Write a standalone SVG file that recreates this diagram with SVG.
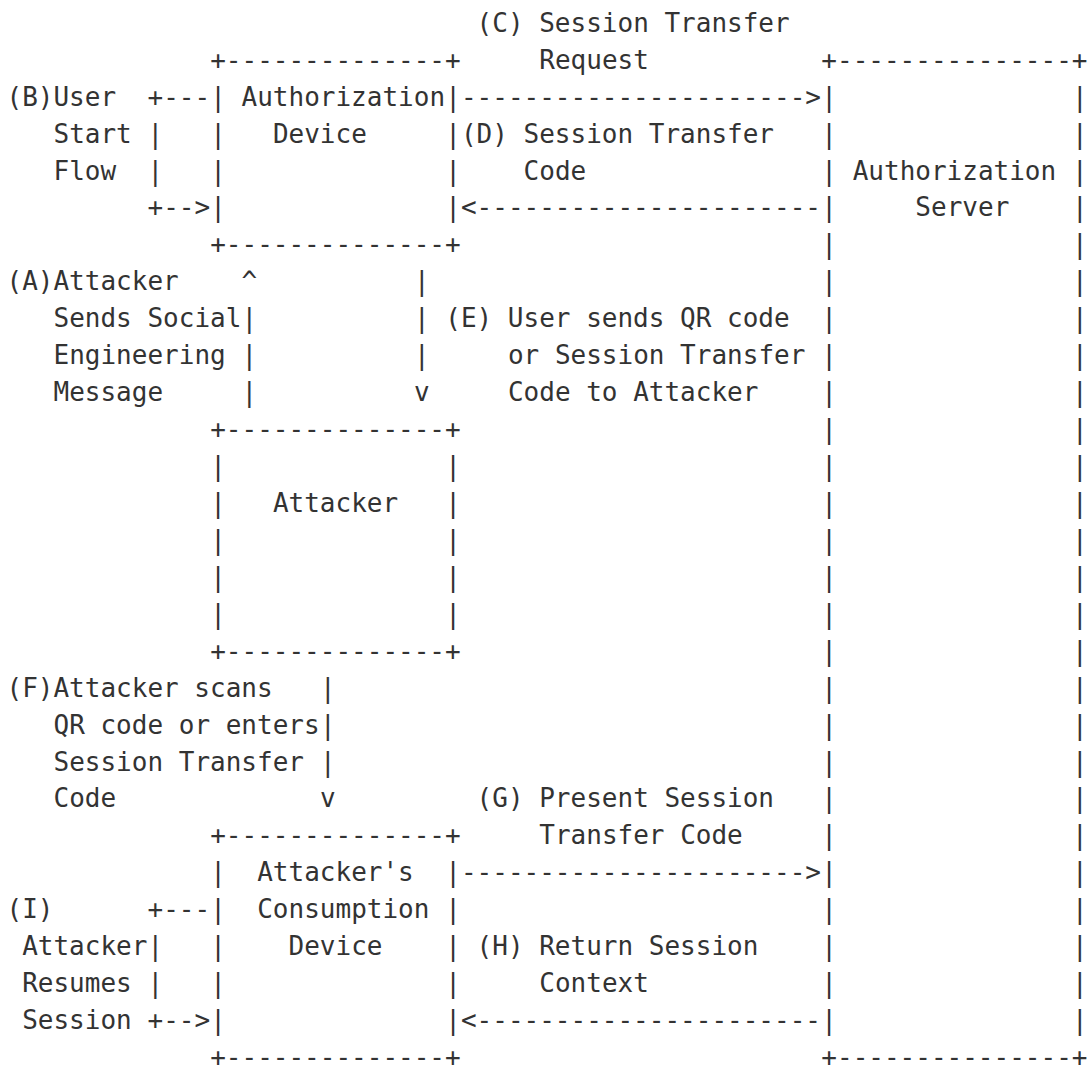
<svg xmlns="http://www.w3.org/2000/svg" width="1087" height="1066" viewBox="0 0 1087 1066" xml:space="preserve">
<style>
  text { font-family: "DejaVu Sans Mono", "Liberation Mono", monospace; font-size: 26px; fill: #333333; white-space: pre; }
</style>
<rect x="0" y="0" width="1087" height="1066" fill="#ffffff"/>

<g id="auth-device">
  <text x="210.21" y="68.6">+--------------+</text>
  <text x="210.21" y="105.6">|</text><text x="445.26" y="105.6">|</text>
  <text x="210.21" y="142.5">|</text><text x="445.26" y="142.5">|</text>
  <text x="210.21" y="179.5">|</text><text x="445.26" y="179.5">|</text>
  <text x="210.21" y="216.4">|</text><text x="445.26" y="216.4">|</text>
  <text x="210.21" y="253.3">+--------------+</text>
  <text x="241.55" y="105.6">Authorization</text>
  <text x="272.89" y="142.5">Device</text>
</g>

<g id="attacker">
  <text x="210.21" y="438.0">+--------------+</text>
  <text x="210.21" y="475.0">|</text><text x="445.26" y="475.0">|</text>
  <text x="210.21" y="511.9">|</text><text x="445.26" y="511.9">|</text>
  <text x="210.21" y="548.9">|</text><text x="445.26" y="548.9">|</text>
  <text x="210.21" y="585.8">|</text><text x="445.26" y="585.8">|</text>
  <text x="210.21" y="622.7">|</text><text x="445.26" y="622.7">|</text>
  <text x="210.21" y="659.7">+--------------+</text>
  <text x="272.89" y="511.9">Attacker</text>
</g>

<g id="consumption-device">
  <text x="210.21" y="844.4">+--------------+</text>
  <text x="210.21" y="881.3">|</text><text x="445.26" y="881.3">|</text>
  <text x="210.21" y="918.3">|</text><text x="445.26" y="918.3">|</text>
  <text x="210.21" y="955.2">|</text><text x="445.26" y="955.2">|</text>
  <text x="210.21" y="992.1">|</text><text x="445.26" y="992.1">|</text>
  <text x="210.21" y="1029.1">|</text><text x="445.26" y="1029.1">|</text>
  <text x="210.21" y="1066.0">+--------------+</text>
  <text x="257.22" y="881.3">Attacker's</text>
  <text x="257.22" y="918.3">Consumption</text>
  <text x="288.56" y="955.2">Device</text>
</g>

<g id="auth-server">
  <text x="821.34" y="68.6">+---------------+</text>
  <text x="821.34" y="105.6">|</text><text x="1072.06" y="105.6">|</text>
  <text x="821.34" y="142.5">|</text><text x="1072.06" y="142.5">|</text>
  <text x="821.34" y="179.5">|</text><text x="1072.06" y="179.5">|</text>
  <text x="821.34" y="216.4">|</text><text x="1072.06" y="216.4">|</text>
  <text x="821.34" y="253.3">|</text><text x="1072.06" y="253.3">|</text>
  <text x="821.34" y="290.3">|</text><text x="1072.06" y="290.3">|</text>
  <text x="821.34" y="327.2">|</text><text x="1072.06" y="327.2">|</text>
  <text x="821.34" y="364.2">|</text><text x="1072.06" y="364.2">|</text>
  <text x="821.34" y="401.1">|</text><text x="1072.06" y="401.1">|</text>
  <text x="821.34" y="438.0">|</text><text x="1072.06" y="438.0">|</text>
  <text x="821.34" y="475.0">|</text><text x="1072.06" y="475.0">|</text>
  <text x="821.34" y="511.9">|</text><text x="1072.06" y="511.9">|</text>
  <text x="821.34" y="548.9">|</text><text x="1072.06" y="548.9">|</text>
  <text x="821.34" y="585.8">|</text><text x="1072.06" y="585.8">|</text>
  <text x="821.34" y="622.7">|</text><text x="1072.06" y="622.7">|</text>
  <text x="821.34" y="659.7">|</text><text x="1072.06" y="659.7">|</text>
  <text x="821.34" y="696.6">|</text><text x="1072.06" y="696.6">|</text>
  <text x="821.34" y="733.6">|</text><text x="1072.06" y="733.6">|</text>
  <text x="821.34" y="770.5">|</text><text x="1072.06" y="770.5">|</text>
  <text x="821.34" y="807.4">|</text><text x="1072.06" y="807.4">|</text>
  <text x="821.34" y="844.4">|</text><text x="1072.06" y="844.4">|</text>
  <text x="821.34" y="881.3">|</text><text x="1072.06" y="881.3">|</text>
  <text x="821.34" y="918.3">|</text><text x="1072.06" y="918.3">|</text>
  <text x="821.34" y="955.2">|</text><text x="1072.06" y="955.2">|</text>
  <text x="821.34" y="992.1">|</text><text x="1072.06" y="992.1">|</text>
  <text x="821.34" y="1029.1">|</text><text x="1072.06" y="1029.1">|</text>
  <text x="821.34" y="1066.0">+---------------+</text>
  <text x="852.68" y="179.5">Authorization</text>
  <text x="915.36" y="216.4">Server</text>
</g>

<g id="connectors">
  <!-- (A) attacker sends social engineering message -->
  <g id="conn-a">
    <text x="241.55" y="290.3">^</text>
    <text x="241.55" y="327.2">|</text>
    <text x="241.55" y="364.2">|</text>
    <text x="241.55" y="401.1">|</text>
    <text x="6.5" y="290.3">(A)Attacker</text>
    <text x="53.51" y="327.2">Sends Social</text>
    <text x="53.51" y="364.2">Engineering</text>
    <text x="53.51" y="401.1">Message</text>
  </g>
  <!-- (B) user start flow -->
  <g id="conn-b">
    <text x="147.53" y="105.6">+---</text>
    <text x="147.53" y="142.5">|</text>
    <text x="147.53" y="179.5">|</text>
    <text x="147.53" y="216.4">+--&gt;</text>
    <text x="6.5" y="105.6">(B)User</text>
    <text x="53.51" y="142.5">Start</text>
    <text x="53.51" y="179.5">Flow</text>
  </g>
  <!-- (C) session transfer request -->
  <g id="conn-c">
    <text x="460.93" y="105.6">----------------------&gt;</text>
    <text x="476.6" y="31.7">(C) Session Transfer</text>
    <text x="539.28" y="68.6">Request</text>
  </g>
  <!-- (D) session transfer code -->
  <g id="conn-d">
    <text x="460.93" y="216.4">&lt;----------------------</text>
    <text x="460.93" y="142.5">(D) Session Transfer</text>
    <text x="523.61" y="179.5">Code</text>
  </g>
  <!-- (E) user sends QR code to attacker -->
  <g id="conn-e">
    <text x="413.92" y="290.3">|</text>
    <text x="413.92" y="327.2">|</text>
    <text x="413.92" y="364.2">|</text>
    <text x="413.92" y="401.1">v</text>
    <text x="445.26" y="327.2">(E) User sends QR code</text>
    <text x="507.94" y="364.2">or Session Transfer</text>
    <text x="507.94" y="401.1">Code to Attacker</text>
  </g>
  <!-- (F) attacker scans QR code -->
  <g id="conn-f">
    <text x="319.9" y="696.6">|</text>
    <text x="319.9" y="733.6">|</text>
    <text x="319.9" y="770.5">|</text>
    <text x="319.9" y="807.4">v</text>
    <text x="6.5" y="696.6">(F)Attacker scans</text>
    <text x="53.51" y="733.6">QR code or enters</text>
    <text x="53.51" y="770.5">Session Transfer</text>
    <text x="53.51" y="807.4">Code</text>
  </g>
  <!-- (G) present session transfer code -->
  <g id="conn-g">
    <text x="460.93" y="881.3">----------------------&gt;</text>
    <text x="476.6" y="807.4">(G) Present Session</text>
    <text x="539.28" y="844.4">Transfer Code</text>
  </g>
  <!-- (H) return session context -->
  <g id="conn-h">
    <text x="460.93" y="1029.1">&lt;----------------------</text>
    <text x="476.6" y="955.2">(H) Return Session</text>
    <text x="539.28" y="992.1">Context</text>
  </g>
  <!-- (I) attacker resumes session -->
  <g id="conn-i">
    <text x="147.53" y="918.3">+---</text>
    <text x="147.53" y="955.2">|</text>
    <text x="147.53" y="992.1">|</text>
    <text x="147.53" y="1029.1">+--&gt;</text>
    <text x="6.5" y="918.3">(I)</text>
    <text x="22.17" y="955.2">Attacker</text>
    <text x="22.17" y="992.1">Resumes</text>
    <text x="22.17" y="1029.1">Session</text>
  </g>
</g>
</svg>
